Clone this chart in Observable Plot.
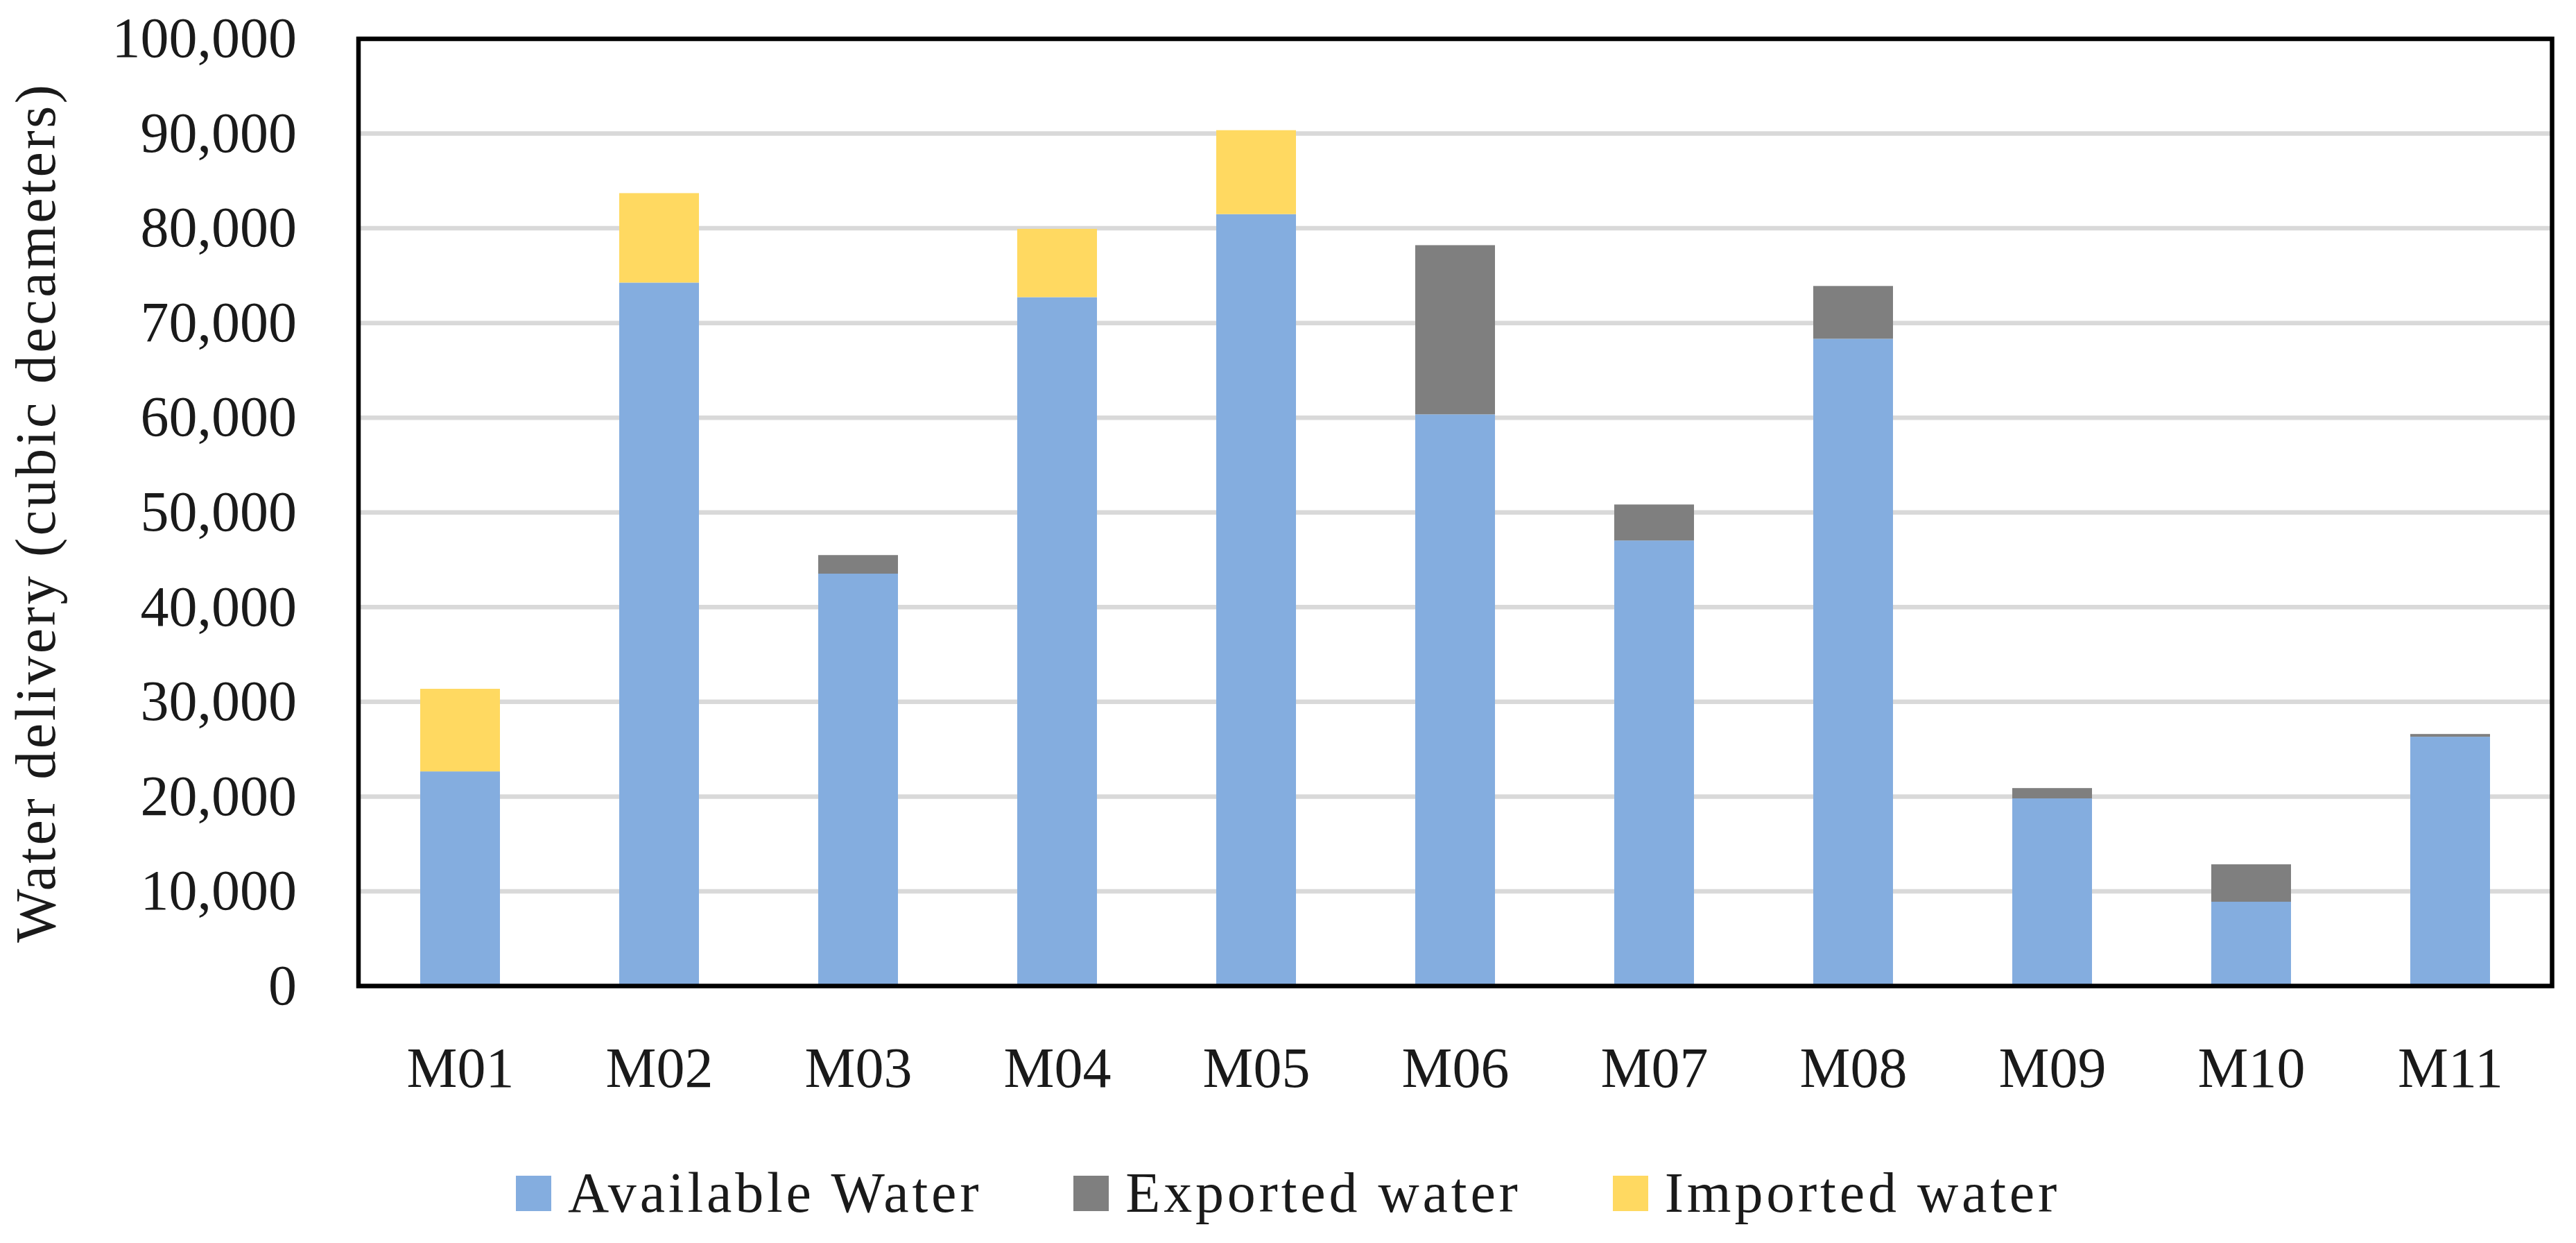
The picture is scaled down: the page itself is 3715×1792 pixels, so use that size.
<!DOCTYPE html>
<html>
<head>
<meta charset="utf-8">
<script src="https://cdn.jsdelivr.net/npm/d3@7"></script>
<script src="https://cdn.jsdelivr.net/npm/@observablehq/plot@0.6"></script>
<style>
  html, body { margin: 0; padding: 0; background: #ffffff; overflow: hidden; }
  body { width: 3715px; height: 1792px; font-family: "Palatino Linotype", "Book Antiqua", Palatino, "Liberation Serif", serif; color: #1a1a1a; }
  #chart svg g[aria-label="text"] text { letter-spacing: 3.5px; }
  #legend { display: flex; justify-content: center; align-items: center; height: 160px; font-size: 82px; letter-spacing: 4.8px; }
  .item { display: flex; align-items: center; margin: 0 66px; }
  .sw { width: 51px; height: 51px; margin-right: 24px; }
</style>
</head>
<body>
<div id="chart"></div>
<div id="legend"></div>
<script>
// ---- data ----
const categories = ["M01", "M02", "M03", "M04", "M05", "M06", "M07", "M08", "M09", "M10", "M11"];
const seriesNames = ["Available Water", "Exported water", "Imported water"];
const seriesColors = ["#84ADDF", "#7F7F7F", "#FFD961"];
const availableWater = [22620, 74230, 43500, 72690, 81460, 60320, 47000, 68300, 19770, 8860, 26280];
const exportedWater  = [0, 0, 1960, 0, 0, 17860, 3800, 5570, 1090, 3950, 290];
const importedWater  = [8720, 9445, 0, 7210, 8860, 0, 0, 0, 0, 0, 0];
const yTicks = [0, 10000, 20000, 30000, 40000, 50000, 60000, 70000, 80000, 90000, 100000];
const yTitle = "Water delivery (cubic decameters)";

// ---- build table ----
const seriesValues = [availableWater, exportedWater, importedWater];
const rows = [];
seriesNames.forEach((s, i) => {
  categories.forEach((c, j) => rows.push({category: c, series: s, value: seriesValues[i][j]}));
});

const W = 3715, H = 1640;
const fontFamily = '"Palatino Linotype", "Book Antiqua", Palatino, "Liberation Serif", serif';

const chart = Plot.plot({
  width: W,
  height: H,
  marginLeft: 516.5,
  marginRight: 35,
  marginTop: 55.5,
  marginBottom: H - 1421,
  style: {fontFamily, fontSize: "82px", color: "#1a1a1a", background: "#ffffff"},
  x: {domain: categories, paddingInner: 0.6, paddingOuter: 0.3, label: null},
  y: {domain: [0, 100000], label: null},
  color: {domain: seriesNames, range: seriesColors},
  marks: [
    Plot.gridY(yTicks, {stroke: "#D9D9D9", strokeOpacity: 1, strokeWidth: 6.5}),
    Plot.barY(rows, {x: "category", y: "value", fill: "series", order: null}),
    Plot.frame({stroke: "#000000", strokeWidth: 6.5}),
    Plot.axisY(yTicks, {tickSize: 0, tickPadding: 89, tickFormat: d3.format(","), fontSize: 82, fill: "#1a1a1a", label: null}),
    Plot.axisX({tickSize: 0, tickPadding: 87, fontSize: 82, fill: "#1a1a1a", label: null}),
    Plot.text([yTitle], {frameAnchor: "left", dx: -464, rotate: -90, fontSize: 82, fill: "#1a1a1a", textAnchor: "middle", lineAnchor: "middle"})
  ]
});
document.getElementById("chart").appendChild(chart);

// ---- legend ----
const legend = document.getElementById("legend");
seriesNames.forEach((s, i) => {
  const item = document.createElement("div");
  item.className = "item";
  const sw = document.createElement("div");
  sw.className = "sw";
  sw.style.background = seriesColors[i];
  const label = document.createElement("span");
  label.textContent = s;
  item.appendChild(sw);
  item.appendChild(label);
  legend.appendChild(item);
});
</script>
</body>
</html>
